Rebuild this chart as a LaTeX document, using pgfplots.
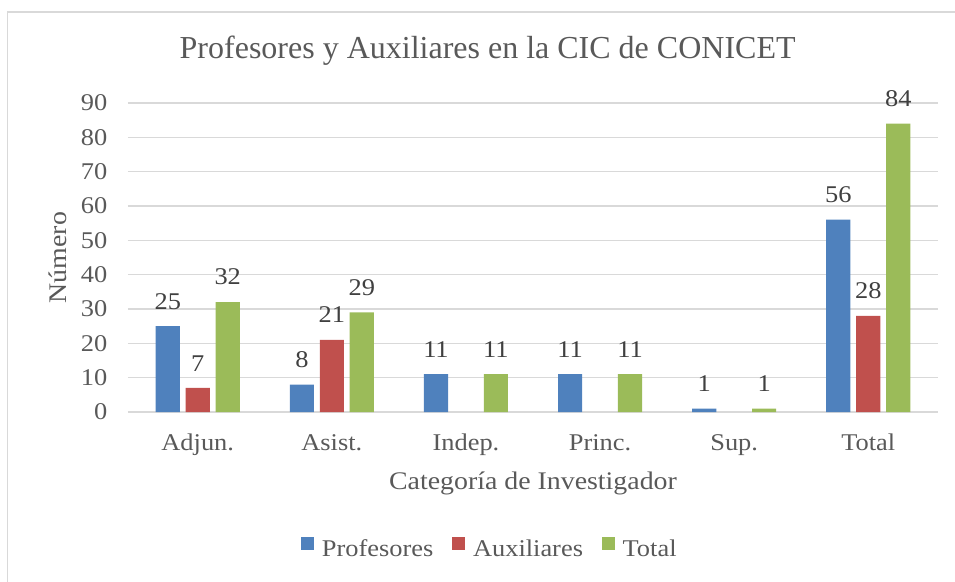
\documentclass[border=0pt]{standalone}
\usepackage{pgfplots}
\pgfplotsset{compat=1.18}
\usepackage{fontspec}
\setmainfont{Liberation Serif}[FakeStretch=1.1]
\newfontfamily\titlefont{Liberation Serif}
\definecolor{cblue}{HTML}{4F81BD}
\definecolor{cred}{HTML}{C0504D}
\definecolor{cgreen}{HTML}{9BBB59}
\definecolor{txtgray}{HTML}{595959}
\definecolor{dlgray}{HTML}{404040}
\definecolor{gridgray}{HTML}{D9D9D9}
\pgfplotsset{sqlegend/.style={legend image code/.code={\fill[##1] (0pt,-0.5pt) rectangle (9.75pt,9.25pt);}}}
\begin{document}
\begin{tikzpicture}
\path[use as bounding box] (-96pt,-126.75pt) rectangle (620.25pt,309pt);
\draw[gridgray, line width=1.1pt] (-90.4pt,-130pt) -- (-90.4pt,300pt) -- (625pt,300pt);
\begin{axis}[
  scale only axis, width=607.5pt, height=231.75pt,
  xmin=-0.52, xmax=5.52, ymin=0, ymax=90,
  ybar, bar width=0.18,
  axis line style={draw=none},
  ymajorgrids, grid style={gridgray, line width=1.1pt},
  major tick length=0pt,
  ytick={0,10,...,90},
  xtick={0,1,2,3,4,5},
  xticklabels={Adjun.,Asist.,Indep.,Princ.,Sup.,Total},
  /pgf/number format/assume math mode=true,
  tick label style={font=\fontsize{18}{20}\selectfont, text=txtgray},
  yticklabel style={xshift=-12pt},
  xticklabel style={anchor=base, yshift=-29pt},
  title={Profesores y Auxiliares en la CIC de CONICET},
  title style={at={(axis description cs:0.444,1.145)}, anchor=center, font=\titlefont\fontsize{24}{28}\selectfont, text=txtgray},
  xlabel={Categoría de Investigador},
  xlabel style={at={(axis description cs:0.5,-0.232)}, anchor=center, font=\fontsize{19}{22}\selectfont, text=txtgray},
  ylabel={Número},
  ylabel style={at={(axis description cs:-0.0864,0.5)}, anchor=center, font=\fontsize{19}{22}\selectfont, text=txtgray},
  nodes near coords,
  nodes near coords style={font=\fontsize{18}{20}\selectfont, text=dlgray, anchor=south, inner sep=0pt, yshift=12.5pt},
  legend style={at={(axis description cs:0.447,-0.443)}, anchor=center, draw=none, fill=none,
    legend columns=3, font=\fontsize{18}{20}\selectfont, text=txtgray,
    /tikz/every even column/.append style={column sep=12pt}},
]
\addplot[fill=cblue, draw=none, bar shift=-0.2235, sqlegend] coordinates {(0,25) (1,8) (2,11) (3,11) (4,1) (5,56)};
\addplot[fill=cred, draw=none, bar shift=0, sqlegend] coordinates {(0,7) (1,21) (5,28)};
\addplot[fill=cgreen, draw=none, bar shift=0.2235, sqlegend] coordinates {(0,32) (1,29) (2,11) (3,11) (4,1) (5,84)};
\legend{\hspace{4pt}Profesores,\hspace{4pt}Auxiliares,\hspace{4pt}Total}
\end{axis}
\end{tikzpicture}
\end{document}
